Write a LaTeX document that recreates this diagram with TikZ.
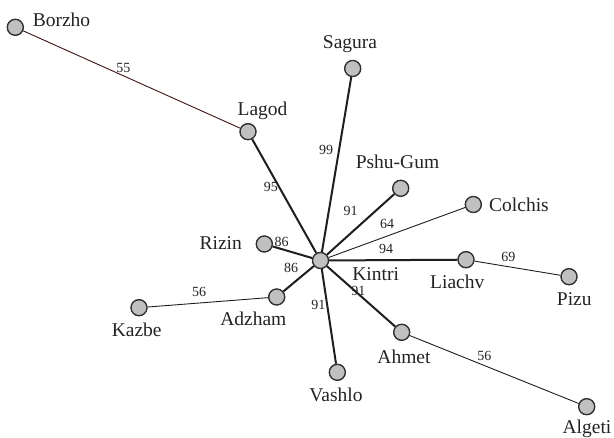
\documentclass[tikz,border=0pt]{standalone}
\usepackage{fontspec}
\setmainfont{Liberation Serif}
\definecolor{vfill}{RGB}{192,192,192}
\definecolor{vdraw}{RGB}{45,45,45}
\definecolor{edk}{RGB}{30,30,30}
\definecolor{ebrown}{RGB}{60,20,20}
\definecolor{txt}{RGB}{35,35,35}
\tikzset{
  vert/.style={circle,draw=vdraw,fill=vfill,line width=0.9pt,minimum size=16.5pt,inner sep=0pt},
  lab/.style={font=\fontsize{19.5}{20}\selectfont,text=txt,inner sep=0pt,anchor=center},
  elab/.style={font=\fontsize{14}{15}\selectfont,text=txt,inner sep=0pt,anchor=center},
  strong/.style={draw=edk,line width=2pt},
  weak/.style={draw=edk,line width=0.9pt},
}
\begin{document}
\begin{tikzpicture}[x=1pt,y=-1pt]
\useasboundingbox (0,0) rectangle (614,438);
% vertices
\node[vert] (kin) at (320.5,260.5) {};
\node[vert] (bor) at (15.3,27.3) {};
\node[vert] (lag) at (248,131.7) {};
\node[vert] (sag) at (352.7,68.5) {};
\node[vert] (psh) at (400.7,188.3) {};
\node[vert] (col) at (473.3,204.5) {};
\node[vert] (riz) at (264.3,244) {};
\node[vert] (lia) at (466,259.7) {};
\node[vert] (piz) at (569,276.7) {};
\node[vert] (adz) at (276.7,297) {};
\node[vert] (kaz) at (139,307.7) {};
\node[vert] (ahm) at (401.7,332.3) {};
\node[vert] (vas) at (337.3,372.3) {};
\node[vert] (alg) at (586.7,406.7) {};
% edges
\draw[draw=ebrown,line width=0.9pt] (bor) -- (lag);
\draw[strong] (lag) -- (kin);
\draw[strong] (sag) -- (kin);
\draw[strong] (psh) -- (kin);
\draw[weak] (col) -- (kin);
\draw[strong] (riz) -- (kin);
\draw[strong] (lia) -- (kin);
\draw[weak] (lia) -- (piz);
\draw[strong] (adz) -- (kin);
\draw[weak] (kaz) -- (adz);
\draw[strong] (ahm) -- (kin);
\draw[weak] (ahm) -- (alg);
\draw[strong] (vas) -- (kin);
% redraw vertices on top of the connectors
\foreach \n in {kin,bor,lag,sag,psh,col,riz,lia,piz,adz,kaz,ahm,vas,alg}{
  \fill[vfill] (\n.center) circle (7.8pt);
  \draw[vdraw,line width=0.9pt] (\n.center) circle (7.8pt);
}
% vertex labels
\node[lab] (lbor) at (61.5,19.5) {Borzho};
\node[lab] (llag) at (262.5,110.5) {Lagod};
\node[lab] (lsag) at (350,44.5) {Sagura};
\node[lab] (lpsh) at (397.5,161.5) {Pshu-Gum};
\node[lab] (lcol) at (519,205) {Colchis};
\node[lab] (lkin) at (375.7,274.3) {Kintri};
\node[lab] (lriz) at (220.7,243.3) {Rizin};
\node[lab] (llia) at (457.3,281.7) {Liachv};
\node[lab] (lpiz) at (574.3,299.5) {Pizu};
\node[lab] (ladz) at (253.3,319) {Adzham};
\node[lab] (lkaz) at (136.7,330) {Kazbe};
\node[lab] (lahm) at (404,356.5) {Ahmet};
\node[lab] (lvas) at (336,394.5) {Vashlo};
\node[lab] (lalg) at (587,428.5) {Algeti};
% edge labels
\node[elab] (w55) at (123.3,68) {55};
\node[elab] (w95) at (270.8,187) {95};
\node[elab] (w99) at (326,150) {99};
\node[elab] (w91a) at (350.7,210.7) {91};
\node[elab] (w64) at (387,224) {64};
\node[elab] (w94) at (386,249) {94};
\node[elab] (w86a) at (281.7,241.7) {86};
\node[elab] (w86b) at (291,268.3) {86};
\node[elab] (w91b) at (358.3,291.2) {91};
\node[elab] (w91c) at (318.3,305) {91};
\node[elab] (w56a) at (199,292.3) {56};
\node[elab] (w69) at (508.3,257.3) {69};
\node[elab] (w56b) at (484.3,355.7) {56};
\end{tikzpicture}
\end{document}
